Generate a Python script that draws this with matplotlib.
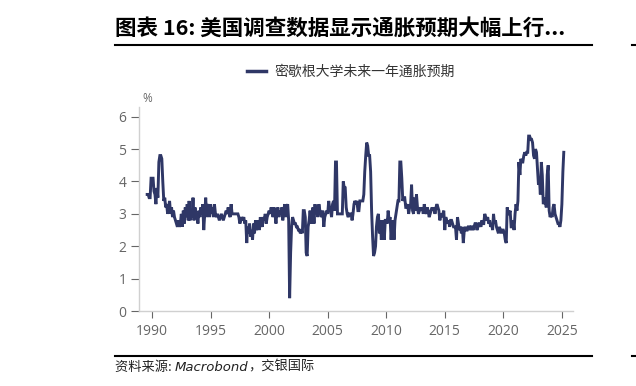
import numpy as np
import pandas as pd
import matplotlib.pyplot as plt
import matplotlib.dates as mdates
from matplotlib.lines import Line2D

plt.rcParams['font.family'] = ['Noto Sans CJK SC', 'DejaVu Sans']

# University of Michigan 1-year-ahead inflation expectations (%), monthly
start_month = "1989-08"
vals_1989_1999 = [
    3.6, 3.6, 3.5, 3.5, 4.1,                                      # 1989 Aug-Dec
    4.1, 4.1, 3.7, 3.6, 3.3, 3.8, 3.5, 4.6, 4.8, 4.8, 4.7, 4.0,   # 1990
    3.4, 3.5, 3.2, 3.3, 3.0, 3.2, 3.4, 3.0, 3.2, 2.9, 3.1, 2.9,   # 1991
    2.8, 2.7, 2.6, 2.8, 2.6, 2.7, 3.0, 2.6, 3.1, 2.7, 3.2, 2.9,   # 1992
    3.3, 2.8, 3.4, 2.8, 3.1, 2.9, 3.5, 2.8, 3.2, 2.9, 3.0, 2.7,   # 1993
    3.1, 2.9, 3.2, 3.0, 3.3, 2.5, 3.0, 3.5, 2.9, 3.2, 3.3, 2.9,   # 1994
    3.3, 3.0, 3.2, 2.9, 3.3, 3.0, 2.9, 3.0, 2.9, 2.8, 2.9, 3.0,   # 1995
    2.9, 2.8, 2.9, 3.0, 3.1, 3.0, 3.2, 3.0, 2.9, 3.3, 3.0, 3.0,   # 1996
    3.0, 3.0, 3.0, 3.0, 3.0, 2.9, 2.7, 2.8, 2.9, 2.8, 2.9, 2.7,   # 1997
    2.8, 2.1, 2.6, 2.4, 2.7, 2.3, 2.5, 2.2, 2.7, 2.4, 2.8, 2.5,   # 1998
    2.6, 2.8, 2.5, 2.9, 2.7, 2.6, 2.9, 2.8, 3.0, 2.7, 2.9, 3.0,   # 1999
]
vals_2000_2009 = [
    3.1, 3.0, 3.2, 3.1, 2.9, 3.2, 3.0, 2.7, 3.1, 3.2, 2.9, 3.1,   # 2000
    3.0, 3.2, 2.8, 3.1, 3.3, 2.9, 3.2, 3.3, 2.8, 0.4, 1.8, 2.6,   # 2001
    2.9, 2.8, 2.7, 2.7, 2.6, 2.6, 2.5, 2.5, 2.4, 2.5, 2.4, 3.1,   # 2002
    3.1, 2.9, 1.8, 1.7, 2.6, 2.8, 3.1, 2.7, 3.0, 3.2, 2.7, 3.3,   # 2003
    3.0, 3.2, 2.9, 3.3, 3.1, 3.0, 2.9, 3.1, 2.6, 2.9, 3.0, 3.1,   # 2004
    3.0, 3.4, 3.2, 3.1, 2.9, 3.3, 3.4, 3.1, 4.6, 4.6, 3.0, 3.0,   # 2005
    3.0, 3.0, 3.0, 3.0, 4.0, 3.8, 3.8, 3.2, 3.0, 2.9, 3.0, 3.0,   # 2006
    3.0, 2.8, 3.0, 3.3, 3.4, 3.3, 3.4, 3.1, 3.1, 3.4, 3.4, 3.4,   # 2007
    3.4, 3.6, 4.3, 4.8, 5.2, 5.1, 4.8, 4.8, 4.3, 3.1, 2.3, 1.7,   # 2008
    1.8, 2.0, 2.6, 2.9, 3.0, 2.4, 2.8, 2.2, 2.8, 2.7, 2.2, 2.8,   # 2009
]
vals_2010_2019 = [
    2.8, 2.7, 3.1, 2.8, 2.9, 2.2, 2.7, 2.8, 2.2, 2.8, 3.0, 3.2,   # 2010
    3.4, 3.4, 4.6, 4.6, 4.1, 3.4, 3.5, 3.5, 3.2, 3.2, 3.3, 3.0,   # 2011
    3.2, 3.3, 3.9, 3.1, 3.0, 3.5, 3.1, 3.6, 3.2, 3.0, 3.1, 3.2,   # 2012
    3.1, 3.2, 3.0, 3.3, 3.1, 3.0, 3.2, 3.1, 2.9, 3.0, 3.1, 3.2,   # 2013
    3.1, 3.2, 3.0, 3.2, 3.3, 3.2, 3.1, 2.8, 3.0, 2.9, 3.0, 3.1,   # 2014
    2.5, 2.9, 2.8, 2.7, 2.8, 2.6, 2.8, 2.8, 2.7, 2.6, 2.6, 2.6,   # 2015
    2.2, 2.9, 2.7, 2.5, 2.6, 2.4, 2.6, 2.1, 2.5, 2.6, 2.5, 2.5,   # 2016
    2.6, 2.6, 2.5, 2.6, 2.6, 2.5, 2.6, 2.7, 2.7, 2.5, 2.6, 2.7,   # 2017
    2.7, 2.6, 2.8, 2.7, 2.7, 3.0, 2.9, 2.8, 2.9, 2.7, 2.8, 2.6,   # 2018
    2.7, 2.5, 3.0, 2.7, 2.8, 2.6, 2.5, 2.4, 2.6, 2.5, 2.4, 2.5,   # 2019
]
vals_2020_2025 = [
    2.5, 2.4, 2.2, 2.1, 3.2, 3.0, 3.0, 3.1, 2.6, 2.6, 2.8, 2.5,   # 2020
    3.0, 3.3, 3.1, 3.4, 4.6, 4.2, 4.7, 4.6, 4.6, 4.8, 4.9, 4.8,   # 2021
    4.9, 4.9, 5.4, 5.4, 5.3, 5.3, 5.2, 4.8, 4.7, 5.0, 4.9, 4.4,   # 2022
    3.9, 4.1, 3.6, 4.6, 4.2, 3.3, 3.4, 3.5, 3.2, 4.2, 4.5, 3.1,   # 2023
    2.9, 3.0, 2.9, 3.2, 3.3, 3.0, 2.9, 2.8, 2.7, 2.7, 2.6, 2.8,   # 2024
    3.3, 4.3, 4.9,                                                # 2025 Jan-Mar
]

values = vals_1989_1999 + vals_2000_2009 + vals_2010_2019 + vals_2020_2025
dates = pd.date_range(start_month, periods=len(values), freq="MS")
series = pd.Series(values, index=dates)

title = "图表 16: 美国调查数据显示通胀预期大幅上行..."
legend_label = "密歇根大学未来一年通胀预期"
source_parts = ["资料来源: ", "Macrobond", "，交银国际"]
year_ticks = list(range(1990, 2030, 5))
y_ticks = [0, 1, 2, 3, 4, 5, 6]

navy = "#2f3766"
grey = "#666666"
spine = "#d0d0d0"

fig = plt.figure(figsize=(6.36, 3.86), dpi=100)
ax = fig.add_axes([0.2186, 0.194, 0.6824, 0.529])

ax.plot(series.index, series.values, color=navy, linewidth=2.1, solid_joinstyle="miter")

ax.set_ylim(0, 6.3)
ax.set_xlim(pd.Timestamp("1988-11-20"), pd.Timestamp("2025-12-15"))
ax.set_yticks(y_ticks)
ax.set_xticks([pd.Timestamp(f"{y}-01-01") for y in year_ticks])
ax.xaxis.set_major_formatter(mdates.DateFormatter("%Y"))

for s in ["top", "right"]:
    ax.spines[s].set_visible(False)
for s in ["left", "bottom"]:
    ax.spines[s].set_color(spine)
    ax.spines[s].set_linewidth(1.0)

ax.tick_params(axis="y", length=6, width=0.8, color=grey, labelcolor=grey,
               labelsize=10, pad=3)
ax.tick_params(axis="x", direction="out", length=5, width=0.8, color=grey,
               labelcolor=grey, labelsize=10, pad=4)
for lbl in ax.get_xticklabels() + ax.get_yticklabels():
    lbl.set_family(["Open Sans", "DejaVu Sans"])

ax.text(0.018, 1.01, "%", transform=ax.transAxes, ha="center", va="bottom",
        fontsize=8.5, color=grey, family=["Open Sans", "DejaVu Sans"])

handle = Line2D([], [], color=navy, linewidth=2.5)
fig.legend([handle], [legend_label], loc="center", bbox_to_anchor=(0.552, 0.815),
           frameon=False, fontsize=10, handlelength=1.4, handletextpad=0.6,
           labelcolor="#333333")

fig.text(0.181, 0.927, title, fontsize=15.5, fontweight="bold", color="#000000",
         va="center", ha="left")
fig.add_artist(Line2D([0.181, 0.931], [0.884, 0.884], color="#000000", linewidth=1.5))
fig.add_artist(Line2D([0.994, 1.0], [0.884, 0.884], color="#000000", linewidth=1.5))

fig.add_artist(Line2D([0.181, 0.931], [0.078, 0.078], color="#000000", linewidth=1.5))
fig.add_artist(Line2D([0.994, 1.0], [0.078, 0.078], color="#000000", linewidth=1.5))

# source line: CJK parts upright, the Latin name in italics, placed one after another
renderer = fig.canvas.get_renderer()
x_pos = 0.181
for i, part in enumerate(source_parts):
    if i == 1:
        t = fig.text(x_pos, 0.048, part, fontsize=9.5, style="italic", color="#222222",
                     va="center", ha="left", family=["DejaVu Sans"])
    else:
        t = fig.text(x_pos, 0.048, part, fontsize=9.5, color="#222222",
                     va="center", ha="left")
    bb = t.get_window_extent(renderer=renderer)
    x_pos += bb.width / fig.bbox.width

fig.savefig("out.png", dpi=100)
